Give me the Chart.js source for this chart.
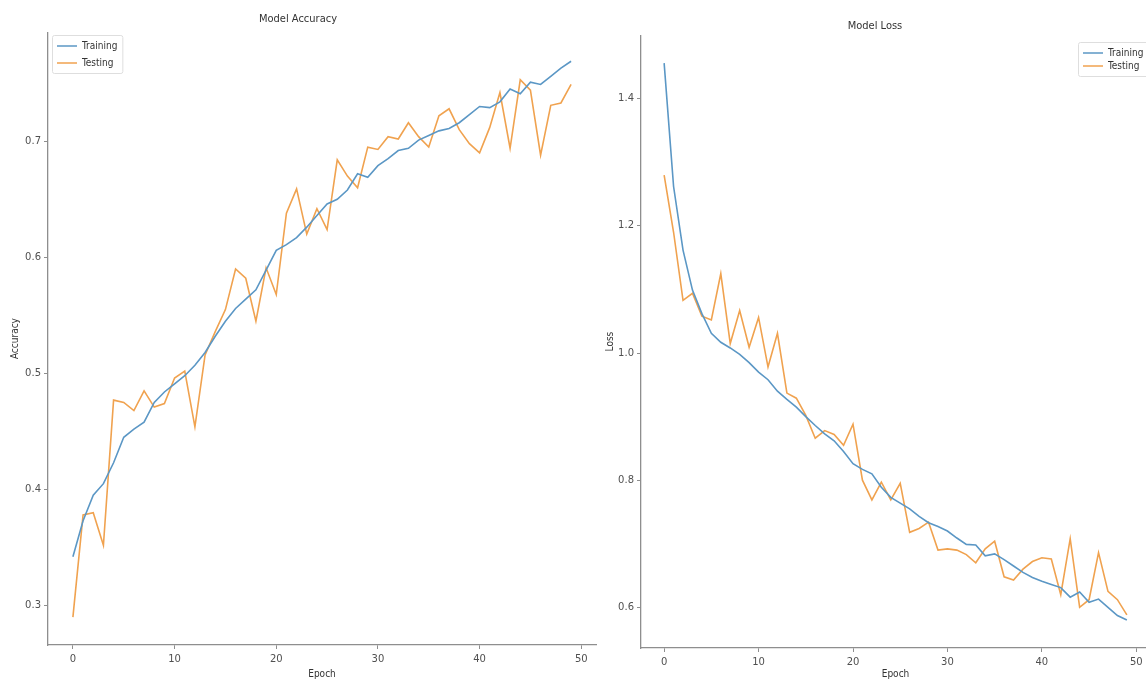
<!DOCTYPE html>
<html>
<head>
<meta charset="utf-8">
<script src="https://cdn.jsdelivr.net/npm/chart.js@4.4.1/dist/chart.umd.min.js"></script>
<style>
  html, body { margin: 0; padding: 0; background: #fff; overflow: hidden; width: 1146px; height: 682px; }
  canvas { position: absolute; top: 0; }
  #accChart { left: 0; }
  #lossChart { left: 600px; }
</style>
</head>
<body>
<canvas id="accChart" width="610" height="682"></canvas>
<canvas id="lossChart" width="592" height="682"></canvas>
<script>
// epochs 0..49
let epochs = [0,1,2,3,4,5,6,7,8,9,10,11,12,13,14,15,16,17,18,19,20,21,22,23,24,25,26,27,28,29,
              30,31,32,33,34,35,36,37,38,39,40,41,42,43,44,45,46,47,48,49];

let accTrain = [0.342,0.373,0.395,0.405,0.423,0.445,0.452,0.458,0.475,0.484,0.491,0.498,0.507,0.518,0.532,0.545,0.556,0.564,0.572,0.589,
                0.606,0.611,0.617,0.626,0.636,0.646,0.650,0.658,0.672,0.669,0.679,0.685,0.692,0.694,0.701,0.705,0.709,0.711,0.716,0.723,
                0.730,0.729,0.734,0.745,0.741,0.751,0.749,0.756,0.763,0.769];
let accTest = [0.290,0.378,0.380,0.352,0.477,0.475,0.468,0.485,0.471,0.474,0.496,0.502,0.454,0.516,0.536,0.555,0.590,0.582,0.545,0.591,
               0.568,0.638,0.659,0.620,0.642,0.624,0.684,0.670,0.660,0.695,0.693,0.704,0.702,0.716,0.704,0.695,0.722,0.728,0.710,0.698,
               0.690,0.712,0.742,0.694,0.753,0.744,0.688,0.731,0.733,0.749];

let lossTrain = [1.456,1.262,1.162,1.099,1.062,1.031,1.017,1.008,0.998,0.985,0.970,0.958,0.940,0.927,0.915,0.900,0.886,0.873,0.862,0.845,
                 0.826,0.817,0.810,0.789,0.773,0.764,0.755,0.743,0.733,0.727,0.720,0.709,0.699,0.698,0.681,0.684,0.675,0.665,0.655,0.647,
                 0.641,0.636,0.631,0.616,0.624,0.608,0.613,0.600,0.587,0.580];
let lossTest = [1.280,1.190,1.083,1.094,1.058,1.052,1.125,1.015,1.067,1.009,1.056,0.978,1.031,0.937,0.929,0.902,0.866,0.878,0.872,0.855,
                0.888,0.800,0.769,0.797,0.769,0.795,0.718,0.724,0.734,0.690,0.692,0.690,0.683,0.670,0.692,0.704,0.648,0.643,0.660,0.672,
                0.678,0.676,0.620,0.708,0.600,0.612,0.686,0.625,0.612,0.588];

let xTicks = [0,10,20,30,40,50];
let accTicks = [0.3,0.4,0.5,0.6,0.7];
let lossTicks = [0.6,0.8,1.0,1.2,1.4];

let blue = '#5b97c5';
let orange = '#f0a24f';
let textColor = '#505050';
let spine = '#8e8e8e';
let narrow = '"DejaVu Sans Condensed", "DejaVu Sans", sans-serif';

Chart.defaults.font.family = 'DejaVu Sans';
Chart.defaults.color = textColor;

function points(ys) {
    return epochs.map((e, i) => ({x: e, y: ys[i]}));
}

// moves the chartArea legend to a fixed spot and draws a matplotlib-like frame
let legendFrame = {
    id: 'legendFrame',
    afterLayout(chart, args, opts) {
        let lg = chart.legend;
        let pad = lg.options.labels.padding;
        lg.left = opts.x + 5 - pad;
        lg.top = opts.y + 6 - pad;
        lg.right = lg.left + lg.width;
        lg.bottom = lg.top + lg.columnSizes[0].height + pad;
    },
    beforeDraw(chart, args, opts) {
        let lg = chart.legend;
        let pad = lg.options.labels.padding;
        let col = lg.columnSizes[0];
        let c = chart.ctx;
        c.save();
        c.beginPath();
        c.roundRect(opts.x + 0.5, opts.y + 0.5, col.width + 10, col.height - pad + 11, 2);
        c.fillStyle = 'rgba(255,255,255,0.8)';
        c.fill();
        c.strokeStyle = '#dedede';
        c.lineWidth = 1;
        c.stroke();
        c.restore();
    }
};

function makeChart(id, cfg) {
    return new Chart(document.getElementById(id), {
        type: 'line',
        data: {
            datasets: [
                { label: 'Training', data: points(cfg.train), borderColor: blue, backgroundColor: blue,
                  borderWidth: 1.6, pointRadius: 0, tension: 0 },
                { label: 'Testing', data: points(cfg.test), borderColor: orange, backgroundColor: orange,
                  borderWidth: 1.6, pointRadius: 0, tension: 0 }
            ]
        },
        plugins: [legendFrame],
        options: {
            responsive: false,
            animation: false,
            layout: { padding: { left: 0, right: cfg.padRight, top: 0, bottom: 0 } },
            plugins: {
                title: {
                    display: true,
                    text: cfg.title,
                    color: '#333',
                    font: { family: narrow, size: 11, weight: 'normal' },
                    padding: { top: cfg.titleTop, bottom: cfg.titleBottom }
                },
                legend: {
                    position: 'chartArea',
                    align: 'start',
                    labels: {
                        usePointStyle: true,
                        pointStyle: 'line',
                        pointStyleWidth: 20,
                        boxHeight: 10,
                        padding: cfg.legendPad,
                        color: '#333',
                        font: { family: narrow, size: 10 }
                    }
                },
                legendFrame: cfg.frame,
                tooltip: { enabled: false }
            },
            scales: {
                x: {
                    type: 'linear',
                    min: -2.45,
                    max: 51.45,
                    afterBuildTicks: (s) => { s.ticks = xTicks.map(v => ({value: v})); },
                    afterFit: (s) => { s.height = 682 - cfg.bottom; },
                    grid: { drawOnChartArea: false, drawTicks: true, tickLength: 4, color: spine },
                    border: { display: true, color: spine, width: 1.3 },
                    ticks: { padding: 4, color: textColor, font: { size: 10 }, maxRotation: 0 },
                    title: { display: true, text: 'Epoch', color: '#333', font: { family: narrow, size: 10 }, padding: { top: 0, bottom: 2 } }
                },
                y: {
                    min: cfg.ymin,
                    max: cfg.ymax,
                    afterBuildTicks: (s) => { s.ticks = cfg.ticks.map(v => ({value: v})); },
                    afterFit: (s) => { s.width = cfg.axisWidth; },
                    grid: { drawOnChartArea: false, drawTicks: true, tickLength: 4, color: spine },
                    border: { display: true, color: spine, width: 1.3 },
                    ticks: { padding: 3, color: textColor, font: { size: 10 }, callback: (v) => v.toFixed(1) },
                    title: { display: true, text: cfg.ylabel, color: '#333', font: { family: narrow, size: 10 }, padding: { top: cfg.ytitlePad, bottom: 0 } }
                }
            }
        }
    });
}

makeChart('accChart', {
    title: 'Model Accuracy', ylabel: 'Accuracy',
    train: accTrain, test: accTest,
    ymin: 0.266, ymax: 0.794, ticks: accTicks,
    axisWidth: 48, padRight: 14, bottom: 645,
    titleTop: 13, titleBottom: 6, ytitlePad: 9,
    legendPad: 7, frame: { x: 52, y: 35 }
});

makeChart('lossChart', {
    title: 'Model Loss', ylabel: 'Loss',
    train: lossTrain, test: lossTest,
    ymin: 0.536, ymax: 1.50, ticks: lossTicks,
    axisWidth: 41, padRight: 42, bottom: 648,
    titleTop: 20, titleBottom: 2, ytitlePad: 4,
    legendPad: 3, frame: { x: 478, y: 42 }
});
</script>
</body>
</html>
